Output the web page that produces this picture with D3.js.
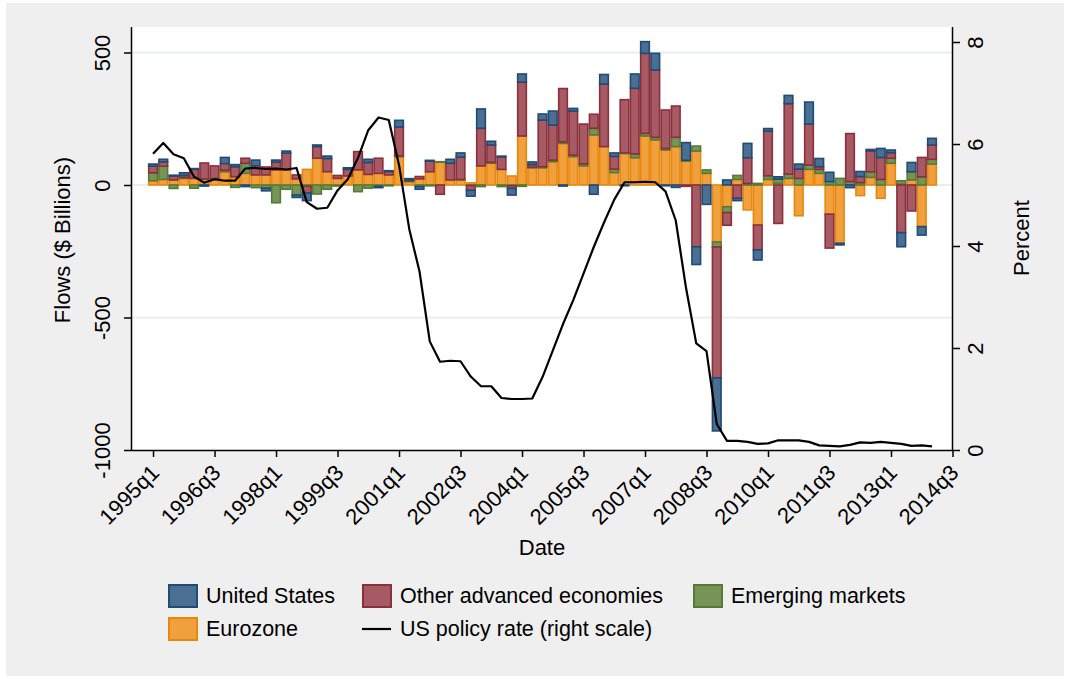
<!DOCTYPE html>
<html>
<head>
<meta charset="utf-8">
<script src="https://cdn.jsdelivr.net/npm/d3@7"></script>
<style>
body { margin: 0; background: #fff; }
svg { display: block; font-family: "Liberation Sans", Arial, sans-serif; }
</style>
</head>
<body>
<svg id="chart" width="1070" height="679"></svg>
<script>
// quarterly flows, $ billions, 1995q1 .. 2014q1
const startYear = 1995;
const unitedStates = [8, 10, 3, 10, 3, -4, 0, 23, 8, -6, 21, -10, 8, 8, -9, -29, 6, 9, 0, 6,
    0, 12, -5, 3, 25, 6, -10, 3, 0, 15, 16, -22, 73, 14, 3, -25, 31, 10, 23, 53,
    -4, 10, 0, -35, 36, 13, -3, 54, 44, 63, -3, -9, 67, -67, -73, -200, 19, -9, 54, -38,
    10, 9, 31, 19, 83, 31, 35, -6, -10, 19, 5, 34, 10, -53, 35, -32, 25];
const otherAdvanced = [25, 16, 15, 8, 34, 60, 48, 25, 38, 19, 35, 30, 29, 63, 15, -25, 44, 50, 11, 25,
    69, 45, 57, 13, 109, 2, 9, 40, -35, 63, 84, -18, 142, 65, 47, -10, 203, 10, 176, 132,
    201, 166, 150, 53, 236, 48, 201, 248, 302, 254, 145, 118, -5, -233, 0, -494, -48, -50, 97, -94,
    168, -145, 266, 35, 155, 10, -128, 0, 181, 23, 79, 83, 21, -180, -98, 73, 54];
const emerging = [30, 50, -13, 3, -12, 2, 3, 6, -9, 38, -10, -12, -67, -16, -38, -5, -34, -16, -4, 0,
    -25, -12, -5, -3, 3, 3, -6, -3, 2, 0, 2, -2, -6, 4, -6, -3, -5, 2, 4, 6,
    6, 6, 8, 25, 0, 13, 2, 14, 10, 10, 6, 35, 2, 19, 13, -19, -22, 15, 6, 6,
    14, 16, 16, 25, 16, 15, 13, 25, 13, 9, 21, 21, 19, 13, 31, 31, 18];
const eurozone = [16, 21, 19, 25, 25, 21, 21, 50, 31, 44, 38, 38, 57, 57, 23, 59, 101, 50, 25, 34,
    57, 40, 44, 38, 107, 13, 23, 50, 86, 19, 19, 8, 72, 82, 59, 34, 185, 65, 65, 88,
    157, 107, 72, 189, 145, 47, 119, 103, 185, 170, 132, 145, 91, 128, 44, -215, -82, 21, -94, -151,
    21, 6, 25, -116, 59, 44, -110, -220, 0, -40, 29, -50, 82, 3, 19, -157, 79];
// US policy rate, percent
const policyRate = [5.81, 6.02, 5.80, 5.72, 5.36, 5.24, 5.31, 5.28, 5.28, 5.52, 5.53, 5.51,
    5.52, 5.50, 5.53, 4.86, 4.73, 4.75, 5.09, 5.31, 5.73, 6.27, 6.52, 6.47,
    5.59, 4.33, 3.50, 2.13, 1.73, 1.75, 1.74, 1.44, 1.25, 1.25, 1.02, 1.00,
    1.00, 1.01, 1.43, 1.95, 2.47, 2.94, 3.46, 3.98, 4.46, 4.91, 5.25, 5.25,
    5.26, 5.25, 5.07, 4.50, 3.18, 2.09, 1.94, 0.51, 0.18, 0.18, 0.16, 0.12,
    0.13, 0.19, 0.19, 0.19, 0.16, 0.09, 0.08, 0.07, 0.10, 0.15, 0.14, 0.16,
    0.14, 0.12, 0.08, 0.09, 0.07];
const tickLabels = ["1995q1", "1996q3", "1998q1", "1999q3", "2001q1", "2002q3", "2004q1",
    "2005q3", "2007q1", "2008q3", "2010q1", "2011q3", "2013q1", "2014q3"];
const leftTicks = [500, 0, -500, -1000];
const rightTicks = [0, 2, 4, 6, 8];

const series = [
    { key: "ez", name: "Eurozone", values: eurozone, fill: "#f0a03c", stroke: "#e8870e" },
    { key: "em", name: "Emerging markets", values: emerging, fill: "#779457", stroke: "#567a35" },
    { key: "oth", name: "Other advanced economies", values: otherAdvanced, fill: "#a65a63", stroke: "#8c2f3c" },
    { key: "us", name: "United States", values: unitedStates, fill: "#4b6f93", stroke: "#1f4b74" }
];

const quarters = unitedStates.map((d, i) => `${startYear + Math.floor(i / 4)}q${i % 4 + 1}`);
const rows = quarters.map((q, i) => {
    const r = { i: i, q: q };
    series.forEach(s => r[s.key] = s.values[i]);
    return r;
});

// plot region
const plot = { left: 131, right: 953, top: 27, bottom: 450 };

const svg = d3.select("#chart");

svg.append("rect").attr("x", 6).attr("y", 3).attr("width", 1058).attr("height", 673)
    .attr("fill", "#efefef");
svg.append("rect")
    .attr("x", plot.left).attr("y", plot.top)
    .attr("width", plot.right - plot.left).attr("height", plot.bottom - plot.top)
    .attr("fill", "#fff");

// scales
const x = d3.scaleLinear().domain([-2.15, 78.05]).range([plot.left, plot.right]);
const yL = d3.scaleLinear().domain([-1000, 500]).range([plot.bottom, 52.5]);
const yR = d3.scaleLinear().domain([0, 8]).range([plot.bottom, 42]);
const step = x(1) - x(0);

// grid
svg.append("g").selectAll("line")
    .data(leftTicks.filter(d => d > -1000))
    .enter().append("line")
    .attr("x1", plot.left).attr("x2", plot.right)
    .attr("y1", d => yL(d)).attr("y2", d => yL(d))
    .attr("stroke", "#e9eef2").attr("stroke-width", 2);

// stacked bars (positives up, negatives down)
const stacked = d3.stack()
    .keys(series.map(s => s.key))
    .offset(d3.stackOffsetDiverging)(rows);

stacked.forEach((layer, k) => {
    const s = series[k];
    svg.append("g")
        .selectAll("rect")
        .data(layer.filter(d => d[1] !== d[0]))
        .enter().append("rect")
        .attr("x", d => x(d.data.i - 0.5) + 0.8)
        .attr("width", step - 1.6)
        .attr("y", d => yL(Math.max(d[0], d[1])))
        .attr("height", d => Math.abs(yL(d[0]) - yL(d[1])))
        .attr("fill", s.fill)
        .attr("stroke", s.stroke)
        .attr("stroke-width", 1.6);
});

// policy rate line
const line = d3.line()
    .x((d, i) => x(i))
    .y(d => yR(d));

svg.append("path")
    .datum(policyRate)
    .attr("d", line)
    .attr("fill", "none")
    .attr("stroke", "#000")
    .attr("stroke-width", 2.2)
    .attr("stroke-linejoin", "round");

// axes
const tickIdx = tickLabels.map((d, i) => i * 6);

const xAxis = svg.append("g")
    .attr("transform", `translate(0,${plot.bottom})`)
    .call(d3.axisBottom(x).tickValues(tickIdx).tickSize(7).tickSizeOuter(0)
        .tickFormat((d, i) => tickLabels[i]));
xAxis.select(".domain").attr("d", `M${plot.left},0.5H${plot.right}`);
xAxis.selectAll("text")
    .attr("font-size", 22)
    .attr("text-anchor", "end")
    .attr("dy", 0)
    .attr("y", 0)
    .attr("transform", "translate(7,24) rotate(-45)");

const leftAxis = svg.append("g")
    .attr("transform", `translate(${plot.left},0)`)
    .call(d3.axisLeft(yL).tickValues(leftTicks).tickSize(7).tickSizeOuter(0)
        .tickFormat(d => String(d)));
leftAxis.select(".domain").attr("d", `M0.5,${plot.top}V${plot.bottom}`);
leftAxis.selectAll(".tick text")
    .attr("font-size", 22)
    .attr("text-anchor", "middle")
    .attr("x", 0).attr("dy", 0)
    .attr("transform", "translate(-21,0) rotate(-90)");

const rightAxis = svg.append("g")
    .attr("transform", `translate(${plot.right},0)`)
    .call(d3.axisRight(yR).tickValues(rightTicks).tickSize(7).tickSizeOuter(0));
rightAxis.select(".domain").attr("d", `M-0.5,${plot.top}V${plot.bottom}`);
rightAxis.selectAll(".tick text")
    .attr("font-size", 22)
    .attr("text-anchor", "middle")
    .attr("x", 0).attr("dy", 0)
    .attr("transform", "translate(30,0) rotate(-90)");

svg.selectAll(".tick line, .domain").attr("stroke", "#000").attr("stroke-width", 1.5);
svg.selectAll(".tick text").attr("fill", "#000");

// titles
svg.append("text")
    .attr("transform", "translate(70,240) rotate(-90)")
    .attr("text-anchor", "middle")
    .attr("font-size", 22)
    .text("Flows ($ Billions)");

svg.append("text")
    .attr("transform", "translate(1029,238) rotate(-90)")
    .attr("text-anchor", "middle")
    .attr("font-size", 22)
    .text("Percent");

svg.append("text")
    .attr("x", 542).attr("y", 555)
    .attr("text-anchor", "middle")
    .attr("font-size", 22)
    .text("Date");

// legend
const legendItems = [
    { s: series[3], x: 168, y: 584 },
    { s: series[2], x: 362, y: 584 },
    { s: series[1], x: 693, y: 584 },
    { s: series[0], x: 168, y: 617 }
];
const legend = svg.append("g").attr("font-size", 21.5);
legendItems.forEach(it => {
    legend.append("rect")
        .attr("x", it.x + 1).attr("y", it.y + 1)
        .attr("width", 28).attr("height", 22)
        .attr("fill", it.s.fill).attr("stroke", it.s.stroke).attr("stroke-width", 2);
    legend.append("text")
        .attr("x", it.x + 38).attr("y", it.y + 19)
        .text(it.s.name);
});
legend.append("line")
    .attr("x1", 362).attr("x2", 391).attr("y1", 629).attr("y2", 629)
    .attr("stroke", "#000").attr("stroke-width", 2.2);
legend.append("text")
    .attr("x", 400).attr("y", 636)
    .text("US policy rate (right scale)");
</script>
</body>
</html>
